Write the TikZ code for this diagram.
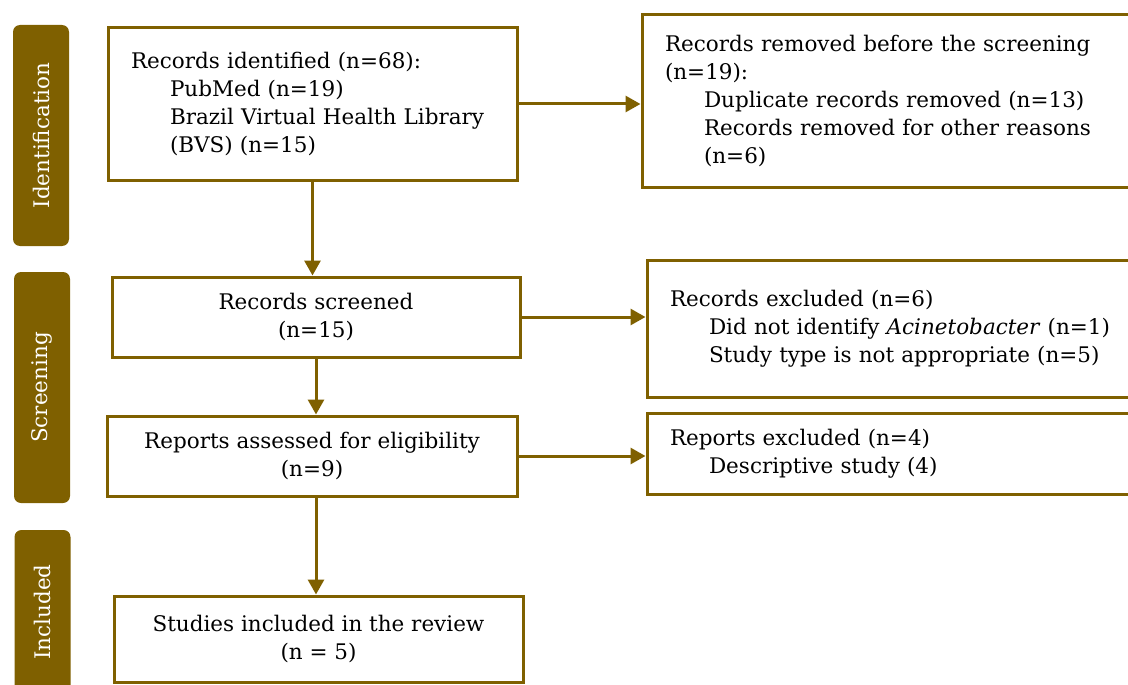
\documentclass[tikz,border=0pt]{standalone}
\usepackage{fontspec}
\setmainfont{DejaVu Serif}
\usetikzlibrary{arrows.meta}
\definecolor{prismabrown}{RGB}{127,96,0}
\newcommand{\subline}{\hspace*{39pt}}

\begin{document}
\begin{tikzpicture}[x=1pt,y=-1pt,
  every node/.style={font=\fontsize{21.5}{28}\selectfont},
  stage node/.style={rotate=90,fill=prismabrown,text=white,rounded corners=7pt,minimum height=56pt,inner sep=0pt},
  main node/.style={draw=prismabrown,line width=3pt,inner sep=0pt,align=center},
  list node/.style={draw=prismabrown,line width=3pt,inner ysep=0pt,inner xsep=23pt,align=left},
  flow/.style={draw=prismabrown,line width=3pt,-{Triangle[length=15pt,width=16pt]}}]

  \useasboundingbox (0,0) rectangle (1128,685);
  \clip (0,0) rectangle (1128,685);

  \node[stage node,minimum width=221pt] (ident) at (41,135.5) {Identification};
  \node[stage node,minimum width=231pt] (screen) at (42,387.5) {Screening};
  \node[stage node,minimum width=164pt] (incl) at (42.5,612) {Included};

  \node[list node,text width=363pt,minimum height=152pt] (identified) at (312.5,104)
    {Records identified (n=68):\\ \subline PubMed (n=19)\\ \subline Brazil Virtual Health Library\\ \subline (BVS) (n=15)};
  \node[list node,text width=452pt,minimum height=172pt] (removed) at (891,101)
    {Records removed before the screening\\ (n=19):\\ \subline Duplicate records removed (n=13)\\ \subline Records removed for other reasons\\ \subline (n=6)};
  \node[main node,minimum width=408pt,minimum height=80pt] (screened) at (316,317)
    {Records screened\\ (n=15)};
  \node[list node,text width=447pt,minimum height=137pt] (excluded) at (893.5,328.5)
    {Records excluded (n=6)\\ \subline Did not identify \textit{Acinetobacter} (n=1)\\ \subline Study type is not appropriate (n=5)};
  \node[main node,minimum width=410pt,minimum height=80pt] (assessed) at (312,456)
    {Reports assessed for eligibility\\ (n=9)};
  \node[list node,text width=447pt,minimum height=81pt] (repexcl) at (893.5,453.5)
    {Reports excluded (n=4)\\ \subline Descriptive study (4)};
  \node[main node,minimum width=409pt,minimum height=86pt] (included) at (318.5,639)
    {Studies included in the review\\ (n = 5)};

  \draw[flow] (identified.south) -- (identified.south |- screened.north);
  \draw[flow] (screened.south) -- (screened.south |- assessed.north);
  \draw[flow] (assessed.south -| screened.south) -- (screened.south |- included.north);
  \draw[flow] (identified.east) -- (identified.east -| removed.west);
  \draw[flow] (screened.east) -- (screened.east -| excluded.west);
  \draw[flow] (assessed.east) -- (assessed.east -| repexcl.west);
\end{tikzpicture}
\end{document}
